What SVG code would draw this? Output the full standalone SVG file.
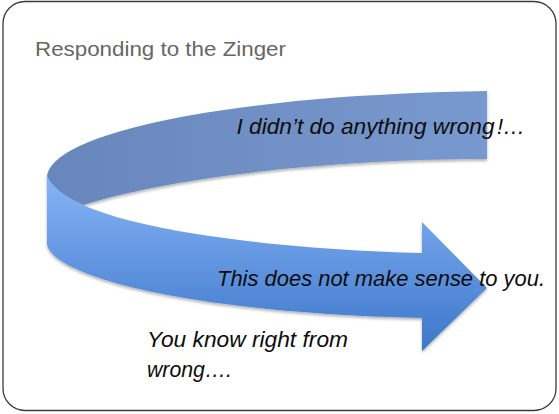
<svg xmlns="http://www.w3.org/2000/svg" width="559" height="414" viewBox="0 0 559 414">
  <style>
    .title { font-family: "Liberation Sans", Arial, sans-serif; font-size: 20px; fill: #666666; }
    .lbl { font-family: "Liberation Sans", Arial, sans-serif; font-size: 22px; font-style: italic; fill: #0d0d0d; }
  </style>
  <defs>
    <linearGradient id="gBack" gradientUnits="userSpaceOnUse" x1="47" y1="0" x2="487" y2="0">
      <stop offset="0" stop-color="#6786bc"/>
      <stop offset="1" stop-color="#7899cf"/>
    </linearGradient>
    <linearGradient id="gFront" gradientUnits="userSpaceOnUse" x1="0" y1="175" x2="0" y2="352">
      <stop offset="0" stop-color="#87b4f6"/>
      <stop offset="1" stop-color="#3c76ca"/>
    </linearGradient>
    <filter id="shadow" x="-10%" y="-10%" width="120%" height="130%">
      <feDropShadow dx="0" dy="2" stdDeviation="1.8" flood-color="#000" flood-opacity="0.3"/>
    </filter>
  </defs>

  <rect x="3" y="1.5" width="553" height="409" rx="22" ry="22" fill="#ffffff" stroke="#3a3a3a" stroke-width="1.3"/>

  <g id="title">
    <text class="title" x="35" y="56" textLength="251" lengthAdjust="spacingAndGlyphs">Responding to the Zinger</text>
  </g>

  <g id="ribbon-back" filter="url(#shadow)">
    <path d="M47,178 A473,87 0 0 1 487,91 L487,159 C360,159 190,172 83,205 Q55,192 47,178 Z" fill="url(#gBack)"/>
  </g>

  <g id="ribbon-front" filter="url(#shadow)">
    <path d="M47,176 L47,243 C47,272 170,312 422,318 L422,351 L487,288 L422,222 L422,253 C300,250 150,235 83,205 Q55,192 47,176 Z" fill="url(#gFront)"/>
  </g>

  <g id="labels">
    <text class="lbl" x="236.5" y="134"><tspan textLength="258" lengthAdjust="spacingAndGlyphs">I didn’t do anything wrong</tspan><tspan x="497">!…</tspan></text>
    <text class="lbl" x="217" y="286" textLength="328" lengthAdjust="spacingAndGlyphs">This does not make sense to you.</text>
    <text class="lbl" x="147" y="347" textLength="201" lengthAdjust="spacingAndGlyphs">You know right from</text>
    <text class="lbl" x="147" y="377" textLength="85" lengthAdjust="spacingAndGlyphs">wrong….</text>
  </g>
</svg>
